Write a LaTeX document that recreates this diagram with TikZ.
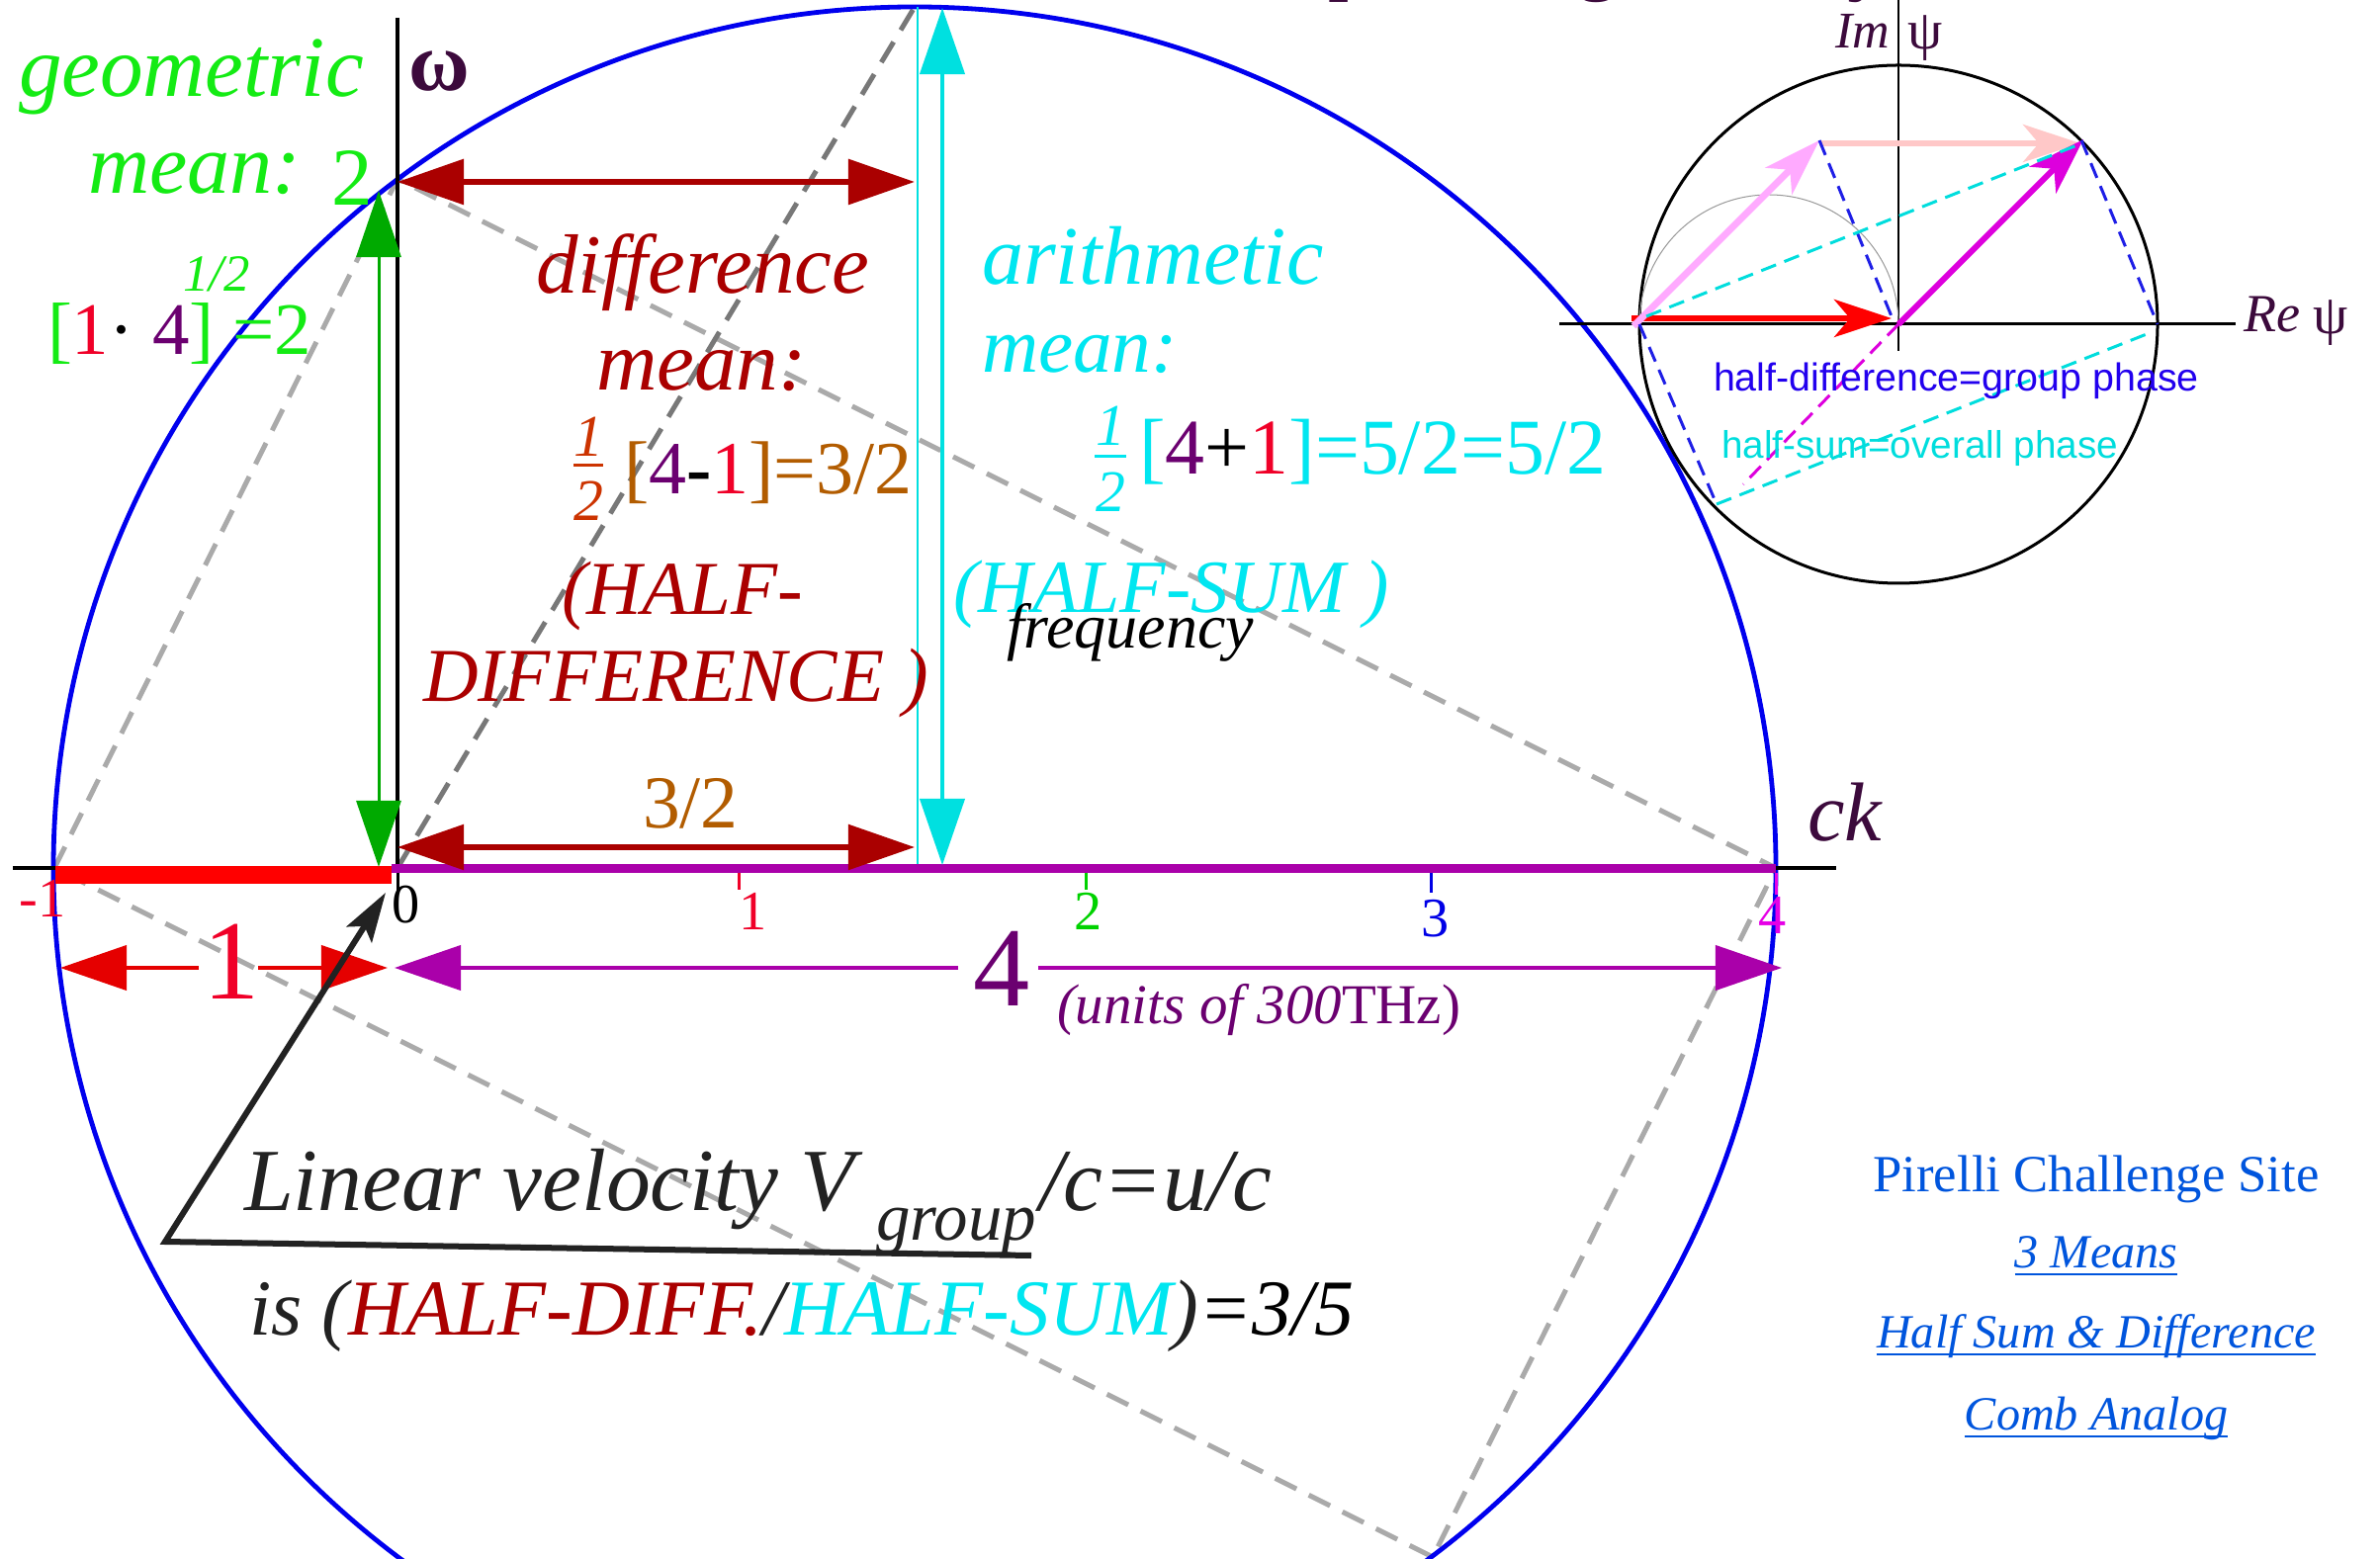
\documentclass[tikz,border=0pt]{standalone}
\usepackage{fontspec}
\setmainfont{Liberation Serif}
\newfontfamily\sansf{Liberation Sans}
\usetikzlibrary{arrows.meta}
\newcommand\fsz[1]{\fontsize{#1}{#1}\selectfont}
\definecolor{gmean}{RGB}{20,235,20}
\definecolor{garrow}{RGB}{0,170,0}
\definecolor{dred}{RGB}{170,0,0}
\definecolor{brn}{RGB}{178,92,0}
\definecolor{fracred}{RGB}{204,51,0}
\definecolor{cyantext}{RGB}{0,230,240}
\definecolor{cyanarrow}{RGB}{0,224,224}
\definecolor{dpurple}{RGB}{60,10,60}
\definecolor{purp}{RGB}{107,0,112}
\definecolor{purpbar}{RGB}{170,0,170}
\definecolor{rednum}{RGB}{240,0,40}
\definecolor{redbar}{RGB}{255,0,0}
\definecolor{magtick}{RGB}{230,0,230}
\definecolor{bluetick}{RGB}{0,0,230}
\definecolor{gtick}{RGB}{0,210,0}
\definecolor{dark}{RGB}{34,34,34}
\definecolor{pblue}{RGB}{0,85,221}
\definecolor{iblue}{RGB}{34,0,238}
\definecolor{dblue}{RGB}{30,30,230}
\definecolor{icyan}{RGB}{0,221,221}
\definecolor{pinkv}{RGB}{255,170,255}
\definecolor{lpink}{RGB}{255,200,200}
\definecolor{magv}{RGB}{221,0,221}
\definecolor{circblue}{RGB}{0,0,238}
\definecolor{lgray}{RGB}{170,170,170}
\definecolor{dgray}{RGB}{120,120,120}
\tikzset{
  BigTri/.tip={Triangle[length=0.67cm,width=0.45cm]},
  InsTip/.tip={Stealth[length=0.58cm,width=0.38cm,inset=0.16cm]},
  PtrTip/.tip={Stealth[length=0.5cm,width=0.3cm,inset=0.1cm]},
  t/.style={inner sep=0pt,outer sep=0pt,anchor=base west},
  tc/.style={inner sep=0pt,outer sep=0pt,anchor=base},
  graydash/.style={line width=0.05cm,dash pattern=on 0.24cm off 0.14cm},
  insdash/.style={line width=0.03cm,dash pattern=on 0.16cm off 0.09cm},
  tickmark/.style={line width=0.03cm},
}
\begin{document}
\begin{tikzpicture}[x=0.01cm,y=-0.01cm]
\useasboundingbox (0,0) rectangle (2407,1577);
\clip (0,0) rectangle (2407,1577);
\fill[white] (0,0) rectangle (2407,1577);

% ---------- key points ----------
\coordinate (O) at (402,878);
\coordinate (M1) at (55,878);
\coordinate (P4) at (1796,878);
\coordinate (G2) at (402,181);
\coordinate (B32) at (1449,1575);
\coordinate (C) at (925,878);
\coordinate (TOP) at (925,7);

% ---------- dashed rectangle and diagonal ----------
\draw[lgray,graydash] (M1) -- (G2) -- (P4) -- (B32) -- cycle;
\draw[dgray,graydash] (O) -- (TOP);

% ---------- big circle ----------
\draw[circblue,line width=0.048cm] (C) circle[radius=871];

% ---------- thin cyan line at x=3/2 ----------
\coordinate (thinT) at (928,7);
\coordinate (thinB) at (928,878);
\draw[cyanarrow,line width=0.015cm] (thinT) -- (thinB);

% ---------- axes ----------
\coordinate (hxL) at (13,878);
\coordinate (hxR) at (1857,878);
\coordinate (vxT) at (402,18);
\draw[black,line width=0.04cm] (hxL) -- (hxR);
\draw[black,line width=0.04cm] (vxT) -- (O);
\coordinate (rbL) at (56,885);
\coordinate (rbR) at (396,885);
\draw[redbar,line width=0.18cm] (rbL) -- (rbR);
\coordinate (pbL) at (396,878.5);
\coordinate (pbR) at (1796,878.5);
\draw[purpbar,line width=0.09cm] (pbL) -- (pbR);

% ticks
\coordinate (t0a) at (402,883); \coordinate (t0b) at (402,902);
\coordinate (t1a) at (747,883); \coordinate (t1b) at (747,900);
\coordinate (t2a) at (1098,883); \coordinate (t2b) at (1098,900);
\coordinate (t3a) at (1447,883); \coordinate (t3b) at (1447,903);
\coordinate (t4a) at (1796,883); \coordinate (t4b) at (1796,905);
\draw[black,tickmark] (t0a) -- (t0b);
\draw[rednum,tickmark] (t1a) -- (t1b);
\draw[gtick,tickmark] (t2a) -- (t2b);
\draw[bluetick,tickmark] (t3a) -- (t3b);
\draw[magtick,tickmark] (t4a) -- (t4b);
\node[tc,text=rednum] (lm1) at (43,928) {\fsz{16pt}-1};
\node[tc,text=black] (l0) at (411,933) {\fsz{16pt}0};
\node[tc,text=rednum] (l1) at (762,940) {\fsz{16pt}1};
\node[tc,text=gtick] (l2) at (1101,940) {\fsz{16pt}2};
\node[tc,text=bluetick] (l3) at (1452,947) {\fsz{16pt}3};
\node[tc,text=magtick] (l4) at (1793,945) {\fsz{16pt}4};
\node[t,text=dpurple] (ck) at (1828,851) {\fsz{24pt}\itshape ck};
\node[t,text=dpurple] (om) at (413,92) {\fsz{24pt}\bfseries ω};

% ---------- arrows ----------
\coordinate (dA) at (402,184); \coordinate (dB) at (925,184);
\draw[dred,line width=0.06cm,BigTri-BigTri] (dA) -- (dB);
\coordinate (gA) at (383,193); \coordinate (gB) at (383,877);
\draw[garrow,line width=0.03cm,BigTri-BigTri] (gA) -- (gB);
\coordinate (cA) at (953,8); \coordinate (cB) at (953,875);
\draw[cyanarrow,line width=0.04cm,BigTri-BigTri] (cA) -- (cB);
\coordinate (hA) at (402,857); \coordinate (hB) at (925,857);
\draw[dred,line width=0.055cm,BigTri-BigTri] (hA) -- (hB);
\node[t,text=brn] (lab32) at (650,838) {\fsz{21.5pt}3/2};

% "1" arrow
\node[tc,text=rednum] (one) at (234,1010) {\fsz{32.5pt}1};
\coordinate (oL) at (61,979); \coordinate (oLi) at (201,979);
\coordinate (oR) at (392,979); \coordinate (oRi) at (261,979);
\draw[red!90!black,line width=0.04cm,-BigTri] (oLi) -- (oL);
\draw[red!90!black,line width=0.04cm,-BigTri] (oRi) -- (oR);
% "4" arrow
\node[tc,text=purp] (four) at (1013,1017) {\fsz{32.5pt}4};
\coordinate (fL) at (399,979); \coordinate (fLi) at (969,979);
\coordinate (fR) at (1802,979); \coordinate (fRi) at (1050,979);
\draw[purpbar,line width=0.04cm,-BigTri] (fLi) -- (fL);
\draw[purpbar,line width=0.04cm,-BigTri] (fRi) -- (fR);
\node[t,text=purp] (units) at (1069,1035) {\fsz{16.2pt}\textit{(units of 300}THz)};

% ---------- geometric mean texts ----------
\node[t,text=gmean] (geo) at (19,98) {\fsz{24.8pt}\itshape geometric};
\node[t,text=gmean] (gmn) at (89,196) {\fsz{24.5pt}\itshape mean:};
\node[t,text=gmean] (gtwo) at (335,208) {\fsz{23.6pt}2};
\node[t,text=gmean] (ghalf) at (185,295) {\fsz{15pt}\itshape 1/2};
\node[t,text=gmean] (gexpr) at (48,359) {\fsz{21.3pt}[{\color{rednum}1}{\color{black}·} {\color{purp}4}] =2};

% ---------- difference mean ----------
\node[t,text=dred] (diff) at (542,297) {\fsz{24.2pt}\itshape difference};
\node[t,text=dred] (dmean) at (603,395) {\fsz{24.2pt}\itshape mean:};
\node[tc,text=fracred] (dnum) at (595,462) {\fsz{17pt}\itshape 1};
\coordinate (dbarL) at (580,471); \coordinate (dbarR) at (610,471);
\draw[fracred,line width=0.03cm] (dbarL) -- (dbarR);
\node[tc,text=fracred] (dden) at (595,527) {\fsz{17pt}\itshape 2};
\node[t] (dexpr) at (631,500) {\fsz{21.6pt}{\color{brn}[}{\color{purp}4}{\color{black}\textbf{-}}{\color{rednum}1}{\color{brn}]=3/2}};
\node[t,text=dred] (hd1) at (568,622) {\fsz{21.9pt}\itshape (HALF-};
\node[t,text=dred] (hd2) at (428,710) {\fsz{21.9pt}\itshape DIFFERENCE )};

% ---------- arithmetic mean ----------
\node[t,text=cyantext] (ari) at (993,288) {\fsz{23.9pt}\itshape arithmetic};
\node[t,text=cyantext] (amean) at (993,377) {\fsz{22.5pt}\itshape mean:};
\node[tc,text=cyantext] (anum) at (1123,451) {\fsz{17pt}\itshape 1};
\coordinate (abarL) at (1107,462); \coordinate (abarR) at (1139,462);
\draw[cyantext,line width=0.03cm] (abarL) -- (abarR);
\node[tc,text=cyantext] (aden) at (1123,518) {\fsz{17pt}\itshape 2};
\node[t,text=cyantext] (aexpr) at (1152,480) {\fsz{22.7pt}[{\color{purp}4}{\color{black}+}{\color{rednum}1}]=5/2=5/2};
\node[t,text=cyantext] (hs) at (964,620) {\fsz{21.6pt}\itshape (HALF-SUM )};
\node[t,text=black] (freq) at (1018,656) {\fsz{18.2pt}\itshape frequency};

% ---------- velocity pointer ----------
\coordinate (ulR) at (1043,1270);
\coordinate (ulL) at (167,1256);
\coordinate (ptip) at (390,903);
\draw[dark,line width=0.06cm,line join=miter,-PtrTip] (ulR) -- (ulL) -- (ptip);
\node[t,text=dark] (lin) at (247,1224) {\fsz{25.5pt}\itshape Linear velocity V};
\node[t,text=dark] (grp) at (886,1254) {\fsz{19.6pt}\itshape group};
\node[t,text=dark] (cuc) at (1051,1224) {\fsz{25.5pt}\itshape /c=u/c};
\node[t,text=dark] (isr) at (252,1350) {\fsz{22.8pt}\itshape is ({\color{dred}HALF-DIFF.}/{\color{cyantext}HALF-SUM}){\color{black}=3/5}};

% ---------- Pirelli links ----------
\node[tc,text=pblue] (pir) at (2120,1205) {\fsz{15pt}Pirelli Challenge Site};
\node[tc,text=pblue] (lk1) at (2120,1282) {\fsz{13.7pt}\itshape 3 Means};
\node[tc,text=pblue] (lk2) at (2120,1363) {\fsz{13.7pt}\itshape Half Sum \& Difference};
\node[tc,text=pblue] (lk3) at (2120,1446) {\fsz{13.7pt}\itshape Comb Analog};
\foreach \n in {lk1,lk2,lk3}
  \draw[pblue,line width=0.025cm] ([yshift=-0.07cm]\n.base west) -- ([yshift=-0.07cm]\n.base east);

% ---------- inset phasor diagram ----------
\coordinate (IC) at (1920,328);
\coordinate (IL) at (1658,328);
\coordinate (IR) at (2182,328);
\coordinate (IP) at (1840,142);
\coordinate (IT) at (2105,142);
\coordinate (IB) at (1736,510);
\draw[black,line width=0.03cm] (IC) circle[radius=262];
\coordinate (reL) at (1577,328); \coordinate (reR) at (2261,328);
\draw[black,line width=0.03cm] (reL) -- (reR);
\coordinate (imT) at (1920,0); \coordinate (imB) at (1920,355);
\draw[black,line width=0.013cm] (imT) -- (imB);
\draw[gray!80,line width=0.01cm] (IL) arc[start angle=180,end angle=360,radius=131];
\coordinate (redS) at (1650,322); \coordinate (redE) at (1913,322);
\draw[redbar,line width=0.06cm,-InsTip] (redS) -- (redE);
\coordinate (pkS) at (1652,330);
\draw[pinkv,line width=0.07cm,-InsTip] (pkS) -- (IP);
\coordinate (lpS) at (1840,145); \coordinate (lpE) at (2104,145);
\draw[lpink,line width=0.06cm,-InsTip] (lpS) -- (lpE);
\coordinate (mgE) at (2107,141);
\draw[magv,line width=0.06cm,-InsTip] (IC) -- (mgE);
\coordinate (bd1) at (1915,325);
\draw[dblue,insdash] (IP) -- (bd1);
\draw[dblue,insdash] (IT) -- (IR);
\draw[dblue,insdash] (IL) -- (IB);
\coordinate (cy1) at (1665,320); \coordinate (cy2) at (2103,146);
\draw[icyan,insdash] (cy1) -- (cy2);
\coordinate (cy3) at (2176,336);
\draw[icyan,insdash] (IB) -- (cy3);
\coordinate (mgD) at (1763,490);
\draw[magv,insdash] (IC) -- (mgD);
\node[t,text=dpurple] (imlab) at (1856,49) {\fsz{14.8pt}\itshape Im};
\node[t,text=dpurple] (impsi) at (1929,50) {\fsz{16pt}ψ};
\node[t,text=dpurple] (relab) at (2269,336) {\fsz{15.4pt}\itshape Re};
\node[t,text=dpurple] (repsi) at (2339,338) {\fsz{16pt}ψ};
\node[t,text=iblue] (hdt) at (1733,396) {\sansf\fsz{11.2pt}half-difference=group phase};
\node[t,text=icyan] (hst) at (1741,464) {\sansf\fsz{11pt}half-sum=overall phase};

% ---------- cut-off title fragments at the top edge ----------
\node[t,text=dpurple] (frp) at (1343,-15) {\fsz{24pt}p};
\node[t,text=dpurple] (frg) at (1594,-15) {\fsz{24pt}g};
\node[t,text=dpurple] (fry) at (1868,-15) {\fsz{24pt}y};
\end{tikzpicture}
\end{document}
